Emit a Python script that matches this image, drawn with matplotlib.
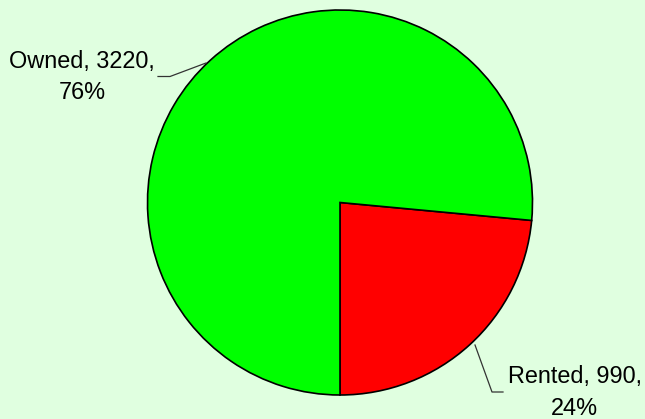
import matplotlib
matplotlib.use("Agg")
import matplotlib.pyplot as plt

categories = ["Rented", "Owned"]
values = [990, 3220]
colors = ["#FF0000", "#00FF00"]

W, H = 645, 419
fig = plt.figure(figsize=(W / 100, H / 100), dpi=100)
fig.patch.set_facecolor("#E0FFE0")
ax = fig.add_axes([0, 0, 1, 1])
ax.set_xlim(0, W)
ax.set_ylim(0, H)
ax.set_aspect("equal")
ax.axis("off")

cx, cy, r = 340, 216.5, 192.5
ax.pie(values, colors=colors, startangle=-90, counterclock=True,
       center=(cx, cy), radius=r, frame=True,
       wedgeprops=dict(edgecolor="black", linewidth=1.2))
ax.set_xlim(0, W)
ax.set_ylim(0, H)
ax.axis("off")

total = sum(values)
font = dict(family=["Liberation Sans", "DejaVu Sans"], fontsize=16.9, color="black")

def lab(i):
    return f"{categories[i]}, {values[i]},\n{round(values[i] / total * 100)}%"

# Owned label
ax.text(82, H - 77, lab(1), ha="center", va="center", linespacing=1.45, **font)
ax.plot([158, 170, 206], [H - 76.5, H - 76.5, H - 63], color="#333333", lw=0.9)
# Rented label
ax.text(574.5, H - 392.5, lab(0), ha="center", va="center", linespacing=1.45, **font)
ax.plot([475, 492, 503], [H - 345, H - 392, H - 392], color="#333333", lw=0.9)

fig.savefig("out.png", dpi=100, facecolor=fig.get_facecolor())
